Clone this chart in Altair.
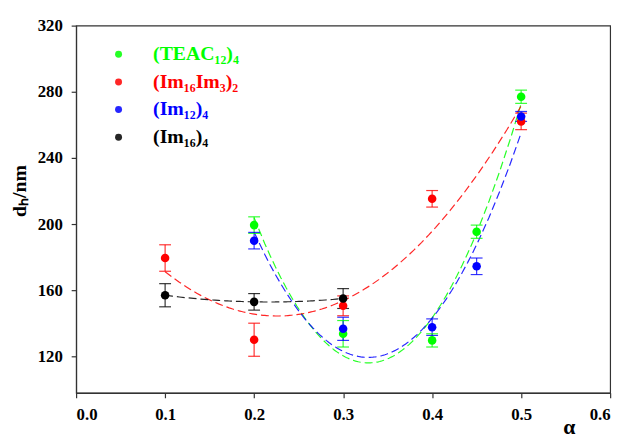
import altair as alt
import pandas as pd

series_keys = ["TEAC", "Im16Im3", "Im12", "Im16"]
series_labels = ["(TEAC\u2081\u2082)\u2084", "(Im\u2081\u2086Im\u2083)\u2082", "(Im\u2081\u2082)\u2084", "(Im\u2081\u2086)\u2084"]
series_colors = ["#00ff00", "#ff0000", "#0000ff", "#000000"]

teac_x = [0.2, 0.3, 0.4, 0.45, 0.5]
teac_y = [199.4, 133.7, 129.7, 195.4, 277.0]
teac_e = [5, 8, 4, 4, 4]

im16im3_x = [0.1, 0.2, 0.3, 0.4, 0.5]
im16im3_y = [179.5, 130.1, 150.6, 215.3, 262.1]
im16im3_e = [8, 10, 6, 5, 5]

im12_x = [0.2, 0.3, 0.4, 0.45, 0.5]
im12_y = [190.0, 136.7, 137.7, 174.5, 265.1]
im12_e = [5, 7, 5, 5, 3]

im16_x = [0.1, 0.2, 0.3]
im16_y = [157.0, 153.0, 155.0]
im16_e = [7, 5, 6]

x_ticks = [0.0, 0.1, 0.2, 0.3, 0.4, 0.5, 0.6]
y_ticks = [120, 160, 200, 240, 280, 320]

rows = []
for key, xs, ys, es in [
    ("TEAC", teac_x, teac_y, teac_e),
    ("Im16Im3", im16im3_x, im16im3_y, im16im3_e),
    ("Im12", im12_x, im12_y, im12_e),
    ("Im16", im16_x, im16_y, im16_e),
]:
    for a, b, c in zip(xs, ys, es):
        rows.append({"series": key, "x": a, "y": b, "e": c})
df = pd.DataFrame(rows)

FONT = "Liberation Serif"

label_map = " : ".join(
    [f"datum.value == '{k}' ? '{l}'" for k, l in zip(series_keys[:-1], series_labels[:-1])]
) + f" : '{series_labels[-1]}'"
color_map = " : ".join(
    [f"datum.value == '{k}' ? '{c}'" for k, c in zip(series_keys[:-1], series_colors[:-1])]
) + f" : '{series_colors[-1]}'"

xenc = alt.X(
    "x:Q",
    scale=alt.Scale(domain=[0, 0.6], nice=False),
    axis=alt.Axis(
        values=x_ticks, format=".1f", title="\u03b1", grid=False,
        tickSize=5, labelPadding=9, titleAnchor="start", titleX=493, titleY=41,
        titleBaseline="alphabetic", titleFontSize=22,
    ),
)
yenc = alt.Y(
    "y:Q",
    scale=alt.Scale(domain=[98, 320], nice=False, zero=False),
    axis=alt.Axis(
        values=y_ticks, title="d\u2095/nm", grid=False,
        tickSize=5, labelPadding=9, titlePadding=8, titleFontSize=20, titleY=167,
    ),
)

base = alt.Chart(df)

curves = base.transform_regression(
    "x", "y", method="poly", order=2, groupby=["series"]
).mark_line(strokeDash=[8, 4], strokeWidth=1.2, opacity=0.85).encode(
    x=xenc, y=yenc,
    stroke=alt.Stroke("series:N", scale=alt.Scale(domain=series_keys, range=series_colors)),
)

errs = base.transform_calculate(lo="datum.y - datum.e", hi="datum.y + datum.e")

rules = errs.mark_rule(strokeWidth=1.2, opacity=0.8).encode(
    x="x:Q", y="lo:Q", y2="hi:Q",
    stroke=alt.Stroke("series:N"),
)
cap_lo = errs.mark_tick(orient="horizontal", size=12, thickness=1.2, opacity=0.8).encode(
    x="x:Q", y="lo:Q",
    fill=alt.Fill("series:N", scale=alt.Scale(domain=series_keys, range=series_colors)),
)
cap_hi = errs.mark_tick(orient="horizontal", size=12, thickness=1.2, opacity=0.8).encode(
    x="x:Q", y="hi:Q",
    fill=alt.Fill("series:N"),
)

points = base.mark_circle(size=75, opacity=1).encode(
    x="x:Q", y="y:Q",
    color=alt.Color(
        "series:N", scale=alt.Scale(domain=series_keys, range=series_colors),
        legend=alt.Legend(
            title=None, orient="none", legendX=33, legendY=19,
            symbolType="circle", symbolSize=50, symbolOpacity=1, symbolStrokeWidth=0,
            labelFont=FONT, labelFontSize=20, labelFontWeight="bold",
            labelExpr=label_map, labelColor=alt.ExprRef(color_map),
            labelOffset=25, rowPadding=8, padding=0, labelLimit=300,
        ),
    ),
)

chart = alt.layer(curves, rules, cap_lo, cap_hi, points).properties(
    width=541, height=372,
    autosize=alt.AutoSizeParams(type="none"),
    padding={"left": 69, "top": 15, "right": 11, "bottom": 50},
).configure_view(
    stroke="#333333", strokeWidth=1.2
).configure_axis(
    labelFont=FONT, titleFont=FONT, labelFontSize=17, labelFontWeight="bold",
    titleFontWeight="bold", labelColor="#000000", titleColor="#000000",
    domainColor="#333333", tickColor="#333333", domainWidth=1.2, tickWidth=1.2,
)

chart.save("out.html", embed_options={"renderer": "svg", "actions": False})
